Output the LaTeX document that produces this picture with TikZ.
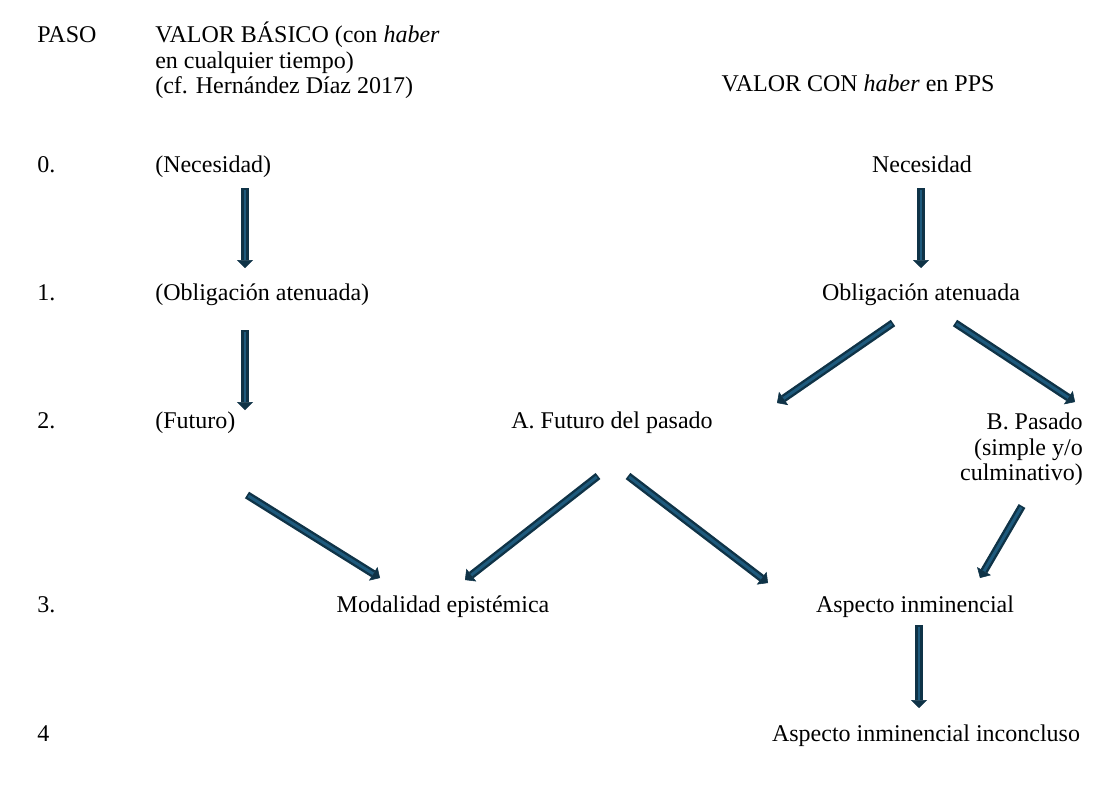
\documentclass[tikz,border=0pt]{standalone}
\usepackage{fontspec}
\setmainfont{Liberation Serif}
\usetikzlibrary{arrows.meta}
\definecolor{flechaosc}{HTML}{0F3347}
\definecolor{flechaclr}{HTML}{1E5A7D}
\tikzset{
  etiq/.style={inner sep=0pt, anchor=base, font=\fontsize{18}{18.9}\selectfont},
  flecha/.style={draw=flechaosc, line width=5.8pt,
    -{Triangle[length=6pt,width=12pt,line width=0.4pt]},
    postaction={draw=flechaclr, line width=2.2pt, shorten >=6pt, shorten <=1.2pt, -}}
}
\begin{document}
\begin{tikzpicture}[x=0.75pt,y=-0.75pt]
  % page area
  \path[fill=white] (0,0) rectangle (1114,785);

  % headings
  \node[etiq, anchor=base west] (paso) at (37,42) {PASO};
  \node[etiq, anchor=north west, align=left] (basico) at (155,22)
    {VALOR BÁSICO (con \textit{haber}\\en cualquier tiempo)\\(cf. Hernández Díaz 2017)};
  \node[etiq] (pps) at (858,91) {VALOR CON \textit{haber} en PPS};

  % step numbers
  \foreach \n/\y/\t in {p0/172/0., p1/300/1., p2/428/2., p3/612/3., p4/741/4}
    \node[etiq, anchor=base west] (\n) at (37,\y) {\t};

  % basic value column
  \node[etiq, anchor=base west] (nec0) at (155,172) {(Necesidad)};
  \node[etiq, anchor=base west] (obl0) at (155,300) {(Obligación atenuada)};
  \node[etiq, anchor=base west] (fut0) at (155,428) {(Futuro)};

  % PPS column
  \node[etiq] (nec1) at (922,172) {Necesidad};
  \node[etiq] (obl1) at (921,300) {Obligación atenuada};
  \node[etiq] (futA) at (612,428) {A. Futuro del pasado};
  \node[etiq, anchor=north east, align=right] (pasB) at (1083,413)
    {B. Pasado\\(simple y/o\\culminativo)};
  \node[etiq] (modal) at (443,612) {Modalidad epistémica};
  \node[etiq] (asp) at (915,612) {Aspecto inminencial};
  \node[etiq] (aspinc) at (926,741) {Aspecto inminencial inconcluso};

  % arrow ends
  \coordinate (nec0s) at (245,188);  \coordinate (obl0n) at (245,268);
  \coordinate (obl0s) at (245,330);  \coordinate (fut0n) at (245,410);
  \coordinate (nec1s) at (921,188);  \coordinate (obl1n) at (921,268);
  \coordinate (obl1a) at (893,323);  \coordinate (futAn) at (777,403);
  \coordinate (obl1b) at (955,323);  \coordinate (pasBn) at (1075,402);
  \coordinate (fut0s) at (247,495);  \coordinate (modalb) at (380,578);
  \coordinate (futAa) at (598,476);  \coordinate (modala) at (465,580);
  \coordinate (futAb) at (628,476);  \coordinate (aspa) at (768,583);
  \coordinate (pasBs) at (1022,506); \coordinate (aspb) at (980,578);
  \coordinate (asps) at (919,625);   \coordinate (aspincn) at (919,708);

  % arrows
  \foreach \a/\b in {nec0s/obl0n, obl0s/fut0n, nec1s/obl1n, obl1a/futAn,
                     obl1b/pasBn, fut0s/modalb, futAa/modala, futAb/aspa,
                     pasBs/aspb, asps/aspincn}
    \draw[flecha] (\a) -- (\b);
\end{tikzpicture}
\end{document}
